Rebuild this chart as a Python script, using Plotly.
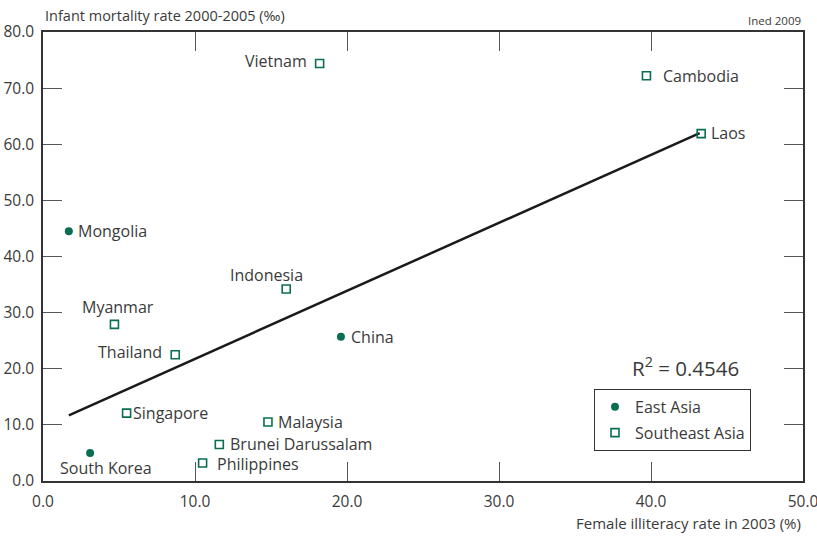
import plotly.graph_objects as go

# Countries, female illiteracy rate 2003 (%), infant mortality 2000-2005 (per mille)
countries = ["Vietnam", "Cambodia", "Laos", "Mongolia", "Myanmar", "Thailand",
             "Indonesia", "China", "Singapore", "South Korea", "Malaysia",
             "Brunei Darussalam", "Philippines"]
illiteracy = [18.2, 39.7, 43.3, 1.7, 4.7, 8.7, 16.0, 19.6, 5.5, 3.1, 14.8, 11.6, 10.5]
mortality = [74.4, 72.2, 61.9, 44.5, 27.9, 22.5, 34.2, 25.7, 12.1, 5.0, 10.5, 6.5, 3.2]
region = ["Southeast Asia", "Southeast Asia", "Southeast Asia", "East Asia",
          "Southeast Asia", "Southeast Asia", "Southeast Asia", "East Asia",
          "Southeast Asia", "East Asia", "Southeast Asia", "Southeast Asia",
          "Southeast Asia"]

# Fitted trend line end points and its coefficient of determination
trend_x = [1.7, 43.2]
trend_y = [11.7, 62.0]
r_squared = 0.4546

x_ticks = [0, 10, 20, 30, 40, 50]
y_ticks = [0, 10, 20, 30, 40, 50, 60, 70, 80]

GREEN = "#0a6e50"
TEXT = "#3a3a3a"
FONT = "Open Sans"

# label placement: (xanchor, yanchor, xshift, yshift) in pixels
label_pos = {
    "Vietnam": ("right", "middle", -11, 2),
    "Cambodia": ("left", "middle", 15, 0),
    "Laos": ("left", "middle", 8, 1),
    "Mongolia": ("left", "middle", 7, 0),
    "Myanmar": ("center", "middle", 4, 17),
    "Thailand": ("right", "middle", -11, 3),
    "Indonesia": ("center", "middle", -20, 14),
    "China": ("left", "middle", 8, 0),
    "Singapore": ("left", "middle", 4, 0),
    "South Korea": ("center", "middle", 16, -15),
    "Malaysia": ("left", "middle", 8, 0),
    "Brunei Darussalam": ("left", "middle", 9, 1),
    "Philippines": ("left", "middle", 12, -1),
}

fig = go.Figure()

fig.add_trace(go.Scatter(
    x=trend_x, y=trend_y, mode="lines",
    line=dict(color="#1a1a1a", width=2.5),
    showlegend=False, hoverinfo="skip",
))

styles = {
    "East Asia": dict(symbol="circle", size=8, color=GREEN,
                      line=dict(width=0)),
    "Southeast Asia": dict(symbol="square-open", size=8, color=GREEN,
                           line=dict(width=1.6, color=GREEN)),
}
for reg in ["East Asia", "Southeast Asia"]:
    xs = [x for x, r in zip(illiteracy, region) if r == reg]
    ys = [y for y, r in zip(mortality, region) if r == reg]
    names = [c for c, r in zip(countries, region) if r == reg]
    fig.add_trace(go.Scatter(
        x=xs, y=ys, mode="markers", name=reg, text=names,
        legendgroup=reg, marker=styles[reg],
    ))

for c, x, y in zip(countries, illiteracy, mortality):
    xa, ya, dx, dy = label_pos[c]
    fig.add_annotation(
        x=x, y=y, xref="x", yref="y", text=c, showarrow=False,
        xanchor=xa, yanchor=ya, xshift=dx, yshift=dy,
        font=dict(family=FONT, size=16, color=TEXT),
    )

fig.add_annotation(
    x=0.846, y=0.255, xref="paper", yref="paper",
    text=f"R<sup>2</sup> = {r_squared:.4f}", showarrow=False,
    xanchor="center", yanchor="middle",
    font=dict(family=FONT, size=20.5, color=TEXT),
)

fig.add_annotation(
    x=0, y=1.0, xref="paper", yref="paper", yshift=17,
    text="Infant mortality rate 2000-2005 (‰)", showarrow=False,
    xanchor="left", yanchor="middle",
    font=dict(family=FONT, size=14.5, color=TEXT),
)
fig.add_annotation(
    x=1, y=1.0, xref="paper", yref="paper", yshift=12,
    text="Ined 2009", showarrow=False,
    xanchor="right", yanchor="middle",
    font=dict(family=FONT, size=11.5, color=TEXT),
)
fig.add_annotation(
    x=1, y=0, xref="paper", yref="paper", yshift=-42,
    text="Female illiteracy rate in 2003 (%)", showarrow=False,
    xanchor="right", yanchor="middle",
    font=dict(family=FONT, size=15, color=TEXT),
)

axis_common = dict(
    showline=True, linecolor="#333333", linewidth=1.5, mirror="ticks",
    ticks="inside", ticklen=19, tickwidth=1, tickcolor="#555555",
    showgrid=False, zeroline=False, automargin=False,
    ticklabeloverflow="allow",
    tickfont=dict(family=FONT, size=15.5, color=TEXT),
    tickformat=".1f",
)

fig.update_layout(
    width=817, height=536,
    margin=dict(l=43, r=14, t=32, b=55),
    paper_bgcolor="white", plot_bgcolor="white",
    xaxis=dict(range=[0, 50], tickvals=x_ticks, ticklabelstandoff=6,
               **axis_common),
    yaxis=dict(range=[0, 80], tickvals=y_ticks, ticklabelstandoff=4,
               **axis_common),
    legend=dict(
        x=0.725, y=0.205, xanchor="left", yanchor="top",
        bordercolor="#333333", borderwidth=1, bgcolor="white",
        font=dict(family=FONT, size=16, color=TEXT),
        itemwidth=30, traceorder="grouped", tracegroupgap=2,
        entrywidth=116,
    ),
)

fig.write_html("out.html")
